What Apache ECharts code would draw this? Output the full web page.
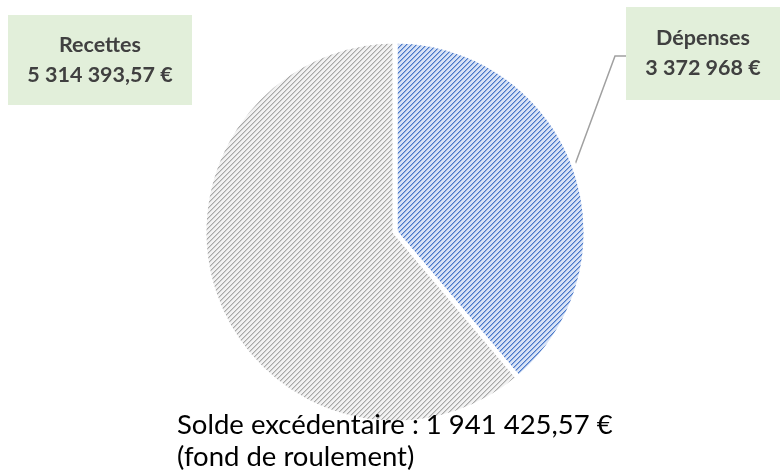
<!DOCTYPE html>
<html>
<head>
<meta charset="utf-8">
<script src="https://cdn.jsdelivr.net/npm/echarts@6/dist/echarts.min.js"></script>
<style>
  html, body { margin: 0; padding: 0; background: #fff; }
  #chart { width: 782px; height: 475px; }
</style>
</head>
<body>
<div id="chart"></div>
<script>
// données
var categories = ['Dépenses', 'Recettes'];
var values = [3372968, 5314393.57];
var solde = 1941425.57;

function formatEuro(v) {
    var s = v.toFixed(2).split('.');
    var ent = s[0].replace(/\B(?=(\d{3})+(?!\d))/g, ' ');
    if (s[1] === '00') return ent + ' €';
    return ent + ',' + s[1] + ' €';
}

// motif hachuré (diagonale montante)
function makeHatch(bg, mid, fg) {
    var n = 5;
    var c = document.createElement('canvas');
    c.width = n; c.height = n;
    var ctx = c.getContext('2d');
    ctx.fillStyle = bg;
    ctx.fillRect(0, 0, n, n);
    for (var x = 0; x < n; x++) {
        for (var y = 0; y < n; y++) {
            var k = (x + y) % n;
            if (k === 0) { ctx.fillStyle = fg; ctx.fillRect(x, y, 1, 1); }
            else if (k === 1) { ctx.fillStyle = mid; ctx.fillRect(x, y, 1, 1); }
        }
    }
    return { image: c, repeat: 'repeat' };
}

var blueHatch = makeHatch('#d8e3f6', '#94b0e2', '#4a78c8');
var grayHatch = makeHatch('#f2f2f2', '#d0d0d0', '#a8a8a8');

// boîtes des étiquettes
var boxes = [
    { cx: 703, cy: 53.5, w: 154, pad: [24, 0, 9, 0] },
    { cx: 100, cy: 60, w: 184, pad: [20, 0, 10, 0] }
];

var chart = echarts.init(document.getElementById('chart'));

var option = {
    animation: false,
    title: {
        text: 'Solde excédentaire : ' + formatEuro(solde) + '\n(fond de roulement)',
        left: 172,
        top: 404,
        textStyle: {
            fontFamily: 'Lato',
            fontSize: 27.5,
            fontWeight: 'normal',
            color: '#000',
            lineHeight: 32
        }
    },
    series: [{
        type: 'pie',
        center: [395, 232],
        radius: [0, 191],
        startAngle: 90,
        clockwise: true,
        avoidLabelOverlap: false,
        itemStyle: {
            borderColor: '#fff',
            borderWidth: 5
        },
        label: {
            show: true,
            position: 'outside',
            fontFamily: 'Lato',
            fontSize: 21.5,
            fontWeight: 'bold',
            color: '#404040',
            lineHeight: 30,
            align: 'center',
            backgroundColor: '#e2efda',
            formatter: function(p) {
                return p.name + '\n' + formatEuro(p.value);
            }
        },
        labelLine: {
            show: true,
            lineStyle: { color: '#a0a0a0', width: 1.5 }
        },
        labelLayout: function(params) {
            var b = boxes[params.dataIndex];
            var res = {
                x: b.cx,
                y: b.cy,
                align: 'center',
                verticalAlign: 'middle',
                fontSize: 21.5
            };
            if (params.dataIndex === 0 && params.labelLinePoints) {
                var start = params.labelLinePoints[0];
                var left = b.cx - b.w / 2;
                res.labelLinePoints = [
                    start,
                    [left - 11, b.cy + 2.5],
                    [left, b.cy + 2.5]
                ];
            }
            return res;
        },
        data: categories.map(function(name, i) {
            var b = boxes[i];
            return {
                name: name,
                value: values[i],
                itemStyle: { color: i === 0 ? blueHatch : grayHatch },
                label: { width: b.w, padding: b.pad },
                labelLine: { show: i === 0 }
            };
        })
    }]
};

chart.setOption(option);
</script>
</body>
</html>
